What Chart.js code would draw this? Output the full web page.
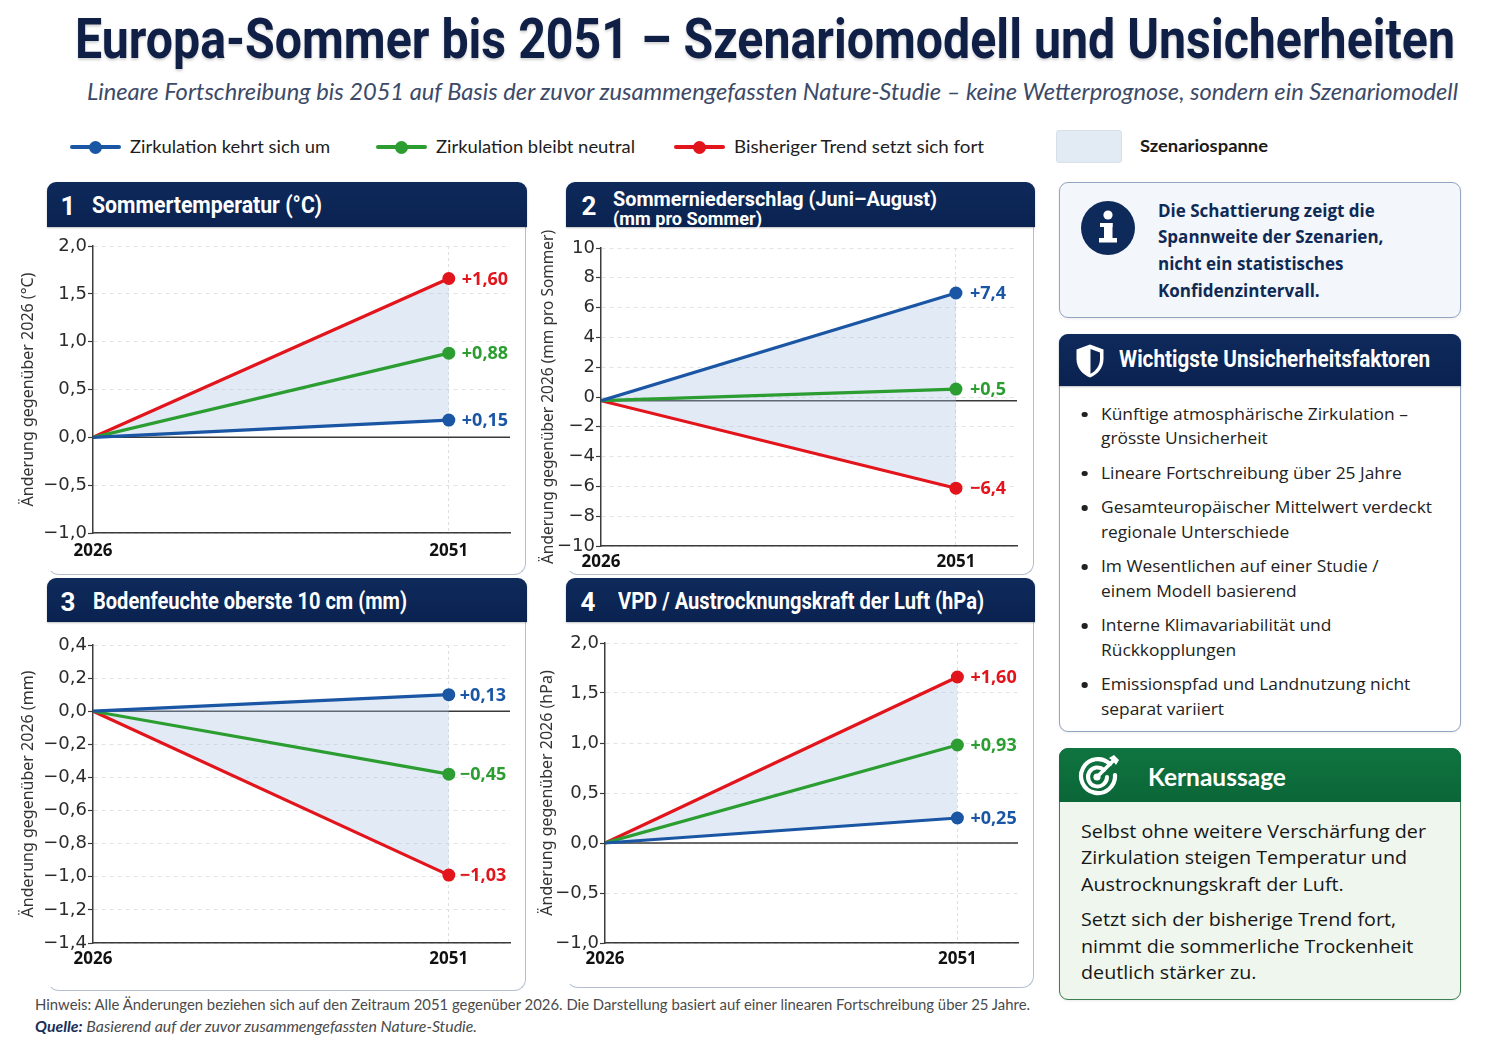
<!DOCTYPE html>
<html lang="de">
<head>
<meta charset="utf-8">
<title>Europa-Sommer bis 2051</title>
<script src="https://cdn.jsdelivr.net/npm/chart.js@4.4.1/dist/chart.umd.min.js"></script>
<style>
html,body{margin:0;padding:0;background:#ffffff;}
body{width:1491px;height:1055px;position:relative;overflow:hidden;font-family:Lato,"Noto Sans",sans-serif;}
.abs{position:absolute;}
.fit{position:absolute;white-space:nowrap;display:inline-block;transform-origin:0 50%;}
.hdr{position:absolute;background:linear-gradient(180deg,#0e2a5b 0%,#0a2250 100%);border-radius:9px 9px 0 0;box-shadow:0 1px 2px rgba(0,0,0,0.25);}
.num{position:absolute;color:#fff;font:700 26px Roboto,"Noto Sans",sans-serif;text-align:center;width:30px;}
.htitle{color:#fff;font-family:Roboto,"Noto Sans",sans-serif;font-weight:700;}
.body{position:absolute;border-right:1.5px solid #b3bfd0;border-bottom:1.5px solid #b3bfd0;border-left:1.5px solid transparent;border-radius:0 0 12px 12px;box-sizing:border-box;}
canvas{position:absolute;}
.bul{position:relative;padding-left:0;margin-bottom:10px;}
.bul:before{content:"";position:absolute;left:-19px;top:10px;width:5.5px;height:5.5px;border-radius:50%;background:#222;}
</style>
</head>
<body>
<div id="root"></div>
<script>
// ---------------- DATA ----------------
const scenarioNames = ['Zirkulation kehrt sich um', 'Zirkulation bleibt neutral', 'Bisheriger Trend setzt sich fort'];
const scenarioColors = ['#1a56a3', '#2b9d31', '#e2141c'];
const years = [2026, 2051];

const tempStart = 0;
const temp2051 = [0.18, 0.88, 1.66];
const tempLabels = ['+0,15', '+0,88', '+1,60'];
const tempTicks = { min: -1.0, max: 2.0, step: 0.5, decimals: 1 };

const precipStart = -0.25;
const precip2051 = [6.98, 0.53, -6.12];
const precipLabels = ['+7,4', '+0,5', '\u22126,4'];
const precipTicks = { min: -10, max: 10, step: 2, decimals: 0 };

const soilStart = 0;
const soil2051 = [0.10, -0.38, -0.99];
const soilLabels = ['+0,13', '\u22120,45', '\u22121,03'];
const soilTicks = { min: -1.4, max: 0.4, step: 0.2, decimals: 1 };

const vpdStart = 0;
const vpd2051 = [0.25, 0.98, 1.66];
const vpdLabels = ['+0,25', '+0,93', '+1,60'];
const vpdTicks = { min: -1.0, max: 2.0, step: 0.5, decimals: 1 };

// ---------------- STATIC LAYOUT ----------------
const root = document.getElementById('root');
function add(html){ root.insertAdjacentHTML('beforeend', html); }

// Title & subtitle
add(`<div class="fit" data-w="1380" style="left:75px;top:7px;height:62px;line-height:62px;font:700 55px Roboto,'Noto Sans',sans-serif;color:#0f1f45;text-shadow:0 2px 3px rgba(0,0,0,0.18);">Europa-Sommer bis 2051 – Szenariomodell und Unsicherheiten</div>`);
add(`<div class="fit" data-w="1371" style="left:87px;top:77px;height:30px;line-height:30px;font:italic 400 23px Lato,'Noto Sans',sans-serif;color:#3c4a68;">Lineare Fortschreibung bis 2051 auf Basis der zuvor zusammengefassten Nature-Studie – keine Wetterprognose, sondern ein Szenariomodell</div>`);

// Legend
const legendPos = [ {lx:70, tx:130, tw:200}, {lx:376, tx:436, tw:199}, {lx:674, tx:734, tw:250} ];
scenarioNames.forEach((n,i)=>{
  const p = legendPos[i];
  add(`<div class="abs" style="left:${p.lx}px;top:145px;width:51px;height:4px;border-radius:2px;background:${scenarioColors[i]}"></div>`);
  add(`<div class="abs" style="left:${p.lx+19}px;top:140.5px;width:13px;height:13px;border-radius:50%;background:${scenarioColors[i]}"></div>`);
  add(`<div class="fit" data-w="${p.tw}" style="left:${p.tx}px;top:135px;height:26px;line-height:26px;font:400 18px Lato,'Noto Sans',sans-serif;color:#1d1d1d;">${n}</div>`);
});
add(`<div class="abs" style="left:1056px;top:130px;width:66px;height:33px;background:#e2eaf4;border:1px solid #d6e0ec;border-radius:3px;box-sizing:border-box;"></div>`);
add(`<div class="fit" data-w="128" style="left:1140px;top:135px;height:26px;line-height:26px;font:700 17px Lato,'Noto Sans',sans-serif;color:#1a1a1a;">Szenariospanne</div>`);

// Panels (headers + card bodies)
const panelBoxes = [
  {x:47,  y:182, w:480, h:45, bodyBottom:575, num:'1', numX:53,  numY:206, lines:[{t:'Sommertemperatur (°C)', x:92, y:206, s:23, w:230}]},
  {x:566, y:182, w:469, h:45, bodyBottom:575, num:'2', numX:574, numY:206, lines:[{t:'Sommerniederschlag (Juni–August)', x:613, y:199, s:21, w:324},{t:'(mm pro Sommer)', x:613, y:219, s:19, w:149}]},
  {x:47,  y:578, w:480, h:44, bodyBottom:991, num:'3', numX:53,  numY:602, lines:[{t:'Bodenfeuchte oberste 10 cm (mm)', x:93, y:602, s:23, w:314}]},
  {x:566, y:578, w:469, h:44, bodyBottom:988, num:'4', numX:573, numY:602, lines:[{t:'VPD / Austrocknungskraft der Luft (hPa)', x:618, y:602, s:23, w:366}]}
];
panelBoxes.forEach(p=>{
  add(`<div class="body" style="left:${p.x}px;top:${p.y+p.h}px;width:${p.w-1}px;height:${p.bodyBottom-p.y-p.h}px;"></div>`);
  add(`<div class="hdr" style="left:${p.x}px;top:${p.y}px;width:${p.w}px;height:${p.h}px;"></div>`);
  add(`<div class="num" style="left:${p.numX}px;top:${p.numY-15}px;height:30px;line-height:30px;">${p.num}</div>`);
  p.lines.forEach(l=>{
    add(`<div class="fit htitle" data-w="${l.w}" style="left:${l.x}px;top:${l.y-14}px;height:28px;line-height:28px;font-size:${l.s}px;">${l.t}</div>`);
  });
});

// Info box
add(`<div class="abs" style="left:1059px;top:182px;width:402px;height:136px;background:#f3f6fa;border:1.5px solid #93a5c0;border-radius:9px;box-sizing:border-box;box-shadow:0 1px 3px rgba(0,0,0,0.08);"></div>`);
add(`<svg class="abs" style="left:1080px;top:200px" width="56" height="56" viewBox="0 0 56 56">
  <circle cx="28" cy="28" r="27" fill="#0d2a5a"/>
  <circle cx="28" cy="15" r="4.6" fill="#fff"/>
  <rect x="24" y="23" width="8.5" height="17" fill="#fff"/>
  <rect x="20" y="23" width="12.5" height="4" fill="#fff"/>
  <rect x="19" y="38" width="18" height="4.5" fill="#fff"/>
</svg>`);
add(`<div class="abs" style="left:1158px;top:197.7px;font:700 17px 'Open Sans',Lato,sans-serif;line-height:26.7px;color:#0f2a55;white-space:nowrap;">Die Schattierung zeigt die<br>Spannweite der Szenarien,<br>nicht ein statistisches<br>Konfidenzintervall.</div>`);

// Uncertainty box
add(`<div class="abs" style="left:1059px;top:334px;width:402px;height:398px;background:#fff;border:1.5px solid #93a5c0;border-radius:9px;box-sizing:border-box;box-shadow:0 1px 3px rgba(0,0,0,0.08);"></div>`);
add(`<div class="hdr" style="left:1059px;top:334px;width:402px;height:52px;"></div>`);
add(`<svg class="abs" style="left:1075px;top:343px" width="30" height="36" viewBox="0 0 30 36">
  <path d="M15 1.5 L28.5 6.5 V16 C28.5 25 22.5 31.5 15 34.5 C7.5 31.5 1.5 25 1.5 16 V6.5 Z" fill="#fff"/>
  <path d="M15.5 6 L25 9.4 V16 C25 23 20.5 28.3 15.5 30.8 Z" fill="#0c2552"/>
</svg>`);
add(`<div class="fit htitle" data-w="311" style="left:1119px;top:346px;height:28px;line-height:28px;font-size:23px;">Wichtigste Unsicherheitsfaktoren</div>`);
const bullets = [
  'Künftige atmosphärische Zirkulation –<br>grösste Unsicherheit',
  'Lineare Fortschreibung über 25 Jahre',
  'Gesamteuropäischer Mittelwert verdeckt<br>regionale Unterschiede',
  'Im Wesentlichen auf einer Studie /<br>einem Modell basierend',
  'Interne Klimavariabilität und<br>Rückkopplungen',
  'Emissionspfad und Landnutzung nicht<br>separat variiert'
];
add(`<div class="fit" data-w="331" style="left:1101px;top:401.5px;font:400 17px 'Open Sans',Lato,sans-serif;line-height:24.5px;color:#222;transform-origin:0 0;">${bullets.map(b=>`<div class="bul">${b}</div>`).join('')}</div>`);

// Kernaussage box
add(`<div class="abs" style="left:1059px;top:748px;width:402px;height:252px;background:#eef6ee;border:1.5px solid #3a7e51;border-radius:9px;box-sizing:border-box;box-shadow:0 1px 3px rgba(0,0,0,0.08);"></div>`);
add(`<div class="abs" style="left:1059px;top:748px;width:402px;height:54px;background:linear-gradient(180deg,#0f7440,#0b6637);border-radius:9px 9px 0 0;"></div>`);
add(`<svg class="abs" style="left:1073px;top:751px" width="50" height="50" viewBox="0 0 50 50">
  <path d="M37 13 A17 17 0 1 0 42 24" fill="none" stroke="#fff" stroke-width="4.2" stroke-linecap="round"/>
  <path d="M31 19 A9.5 9.5 0 1 0 34 26" fill="none" stroke="#fff" stroke-width="4" stroke-linecap="round"/>
  <circle cx="24" cy="26" r="3.6" fill="#fff"/>
  <line x1="24" y1="26" x2="40" y2="10" stroke="#fff" stroke-width="3.6" stroke-linecap="round"/>
  <path d="M36 7 L40 10 L43 14 L46 9 L41 4 Z" fill="#fff"/>
</svg>`);
add(`<div class="abs" style="left:1148px;top:762px;height:28px;line-height:28px;font:700 24.5px Lato,'Noto Sans',sans-serif;color:#fff;white-space:nowrap;">Kernaussage</div>`);
add(`<div class="fit" data-w="345" style="left:1081px;top:817.6px;font:400 19px 'Open Sans',Lato,sans-serif;line-height:26.7px;color:#161616;transform-origin:0 0;">
<div style="margin-bottom:8.3px">Selbst ohne weitere Verschärfung der<br>Zirkulation steigen Temperatur und<br>Austrocknungskraft der Luft.</div>
<div>Setzt sich der bisherige Trend fort,<br>nimmt die sommerliche Trockenheit<br>deutlich stärker zu.</div></div>`);

// Footer
add(`<div class="fit" data-w="995" style="left:35px;top:996px;height:20px;line-height:20px;font:400 14.5px Lato,'Noto Sans',sans-serif;color:#4a4a4a;">Hinweis: Alle Änderungen beziehen sich auf den Zeitraum 2051 gegenüber 2026. Die Darstellung basiert auf einer linearen Fortschreibung über 25 Jahre.</div>`);
add(`<div class="fit" data-w="442" style="left:35px;top:1018px;height:20px;line-height:20px;font:italic 400 14.5px Lato,'Noto Sans',sans-serif;color:#4a4a4a;"><b style="color:#1a2f5a">Quelle:</b> Basierend auf der zuvor zusammengefassten Nature-Studie.</div>`);

function fitAll(){
  document.querySelectorAll('[data-w]').forEach(el=>{
    el.style.transform = 'none';
    const w = el.getBoundingClientRect().width;
    if (w > 0) el.style.transform = `scaleX(${(+el.dataset.w)/w})`;
  });
}
fitAll();
if (document.fonts && document.fonts.ready) document.fonts.ready.then(fitAll);

// ---------------- CHARTS ----------------
const scenarioMarks = {
  id: 'scenarioMarks',
  beforeDatasetsDraw(chart, args, opts){
    const {ctx, chartArea: a} = chart;
    const py = chart.scales.y.getPixelForValue(opts.base);
    ctx.save();
    ctx.strokeStyle = '#3a3a3a'; ctx.lineWidth = 1.5;
    ctx.beginPath(); ctx.moveTo(a.left, py); ctx.lineTo(a.right, py); ctx.stroke();
    ctx.restore();
  },
  afterDatasetsDraw(chart, args, opts){
    const ctx = chart.ctx;
    chart.data.datasets.forEach((ds, i)=>{
      const el = chart.getDatasetMeta(i).data[1];
      ctx.save();
      ctx.font = 'bold 18px "Noto Sans"';
      ctx.fillStyle = ds.borderColor;
      ctx.textAlign = 'left'; ctx.textBaseline = 'middle';
      ctx.fillText(opts.labels[i], el.x + opts.dx, el.y + 1);
      ctx.restore();
    });
  }
};

function fmt(decimals){
  return v => {
    if (Math.abs(v) < 1e-9) v = 0;
    return v.toFixed(decimals).replace('.', ',').replace('-', '\u2212');
  };
}

function makeDatasets(start, ends){
  return ends.map((v, i)=>({
    label: scenarioNames[i],
    data: [{x: years[0], y: start}, {x: years[1], y: v}],
    borderColor: scenarioColors[i],
    borderWidth: 3.2,
    pointRadius: [0, 6.5],
    pointHoverRadius: [0, 6.5],
    pointBackgroundColor: scenarioColors[i],
    pointBorderWidth: 0,
    backgroundColor: 'rgba(168,194,226,0.34)',
    fill: i === 2 ? {target: 0} : false,
    tension: 0
  }));
}

const panels = [
  {id:'c1', start: tempStart,   ends: temp2051,   labels: tempLabels,   ticks: tempTicks,   title:'Änderung gegenüber 2026 (°C)',            tSize:16,   box:{l:14, t:234, w:508, h:329}, padTop:12, yW:79, xH:30, xPad:8, dx:13},
  {id:'c2', start: precipStart, ends: precip2051, labels: precipLabels, ticks: precipTicks, title:'Änderung gegenüber 2026 (mm pro Sommer)', tSize:15.5, box:{l:534, t:224, w:495, h:352}, padTop:24, yW:67, xH:30, xPad:6, dx:14},
  {id:'c3', start: soilStart,   ends: soil2051,   labels: soilLabels,   ticks: soilTicks,   title:'Änderung gegenüber 2026 (mm)',            tSize:16,   box:{l:14, t:633, w:508, h:340}, padTop:12, yW:79, xH:30, xPad:6, dx:11},
  {id:'c4', start: vpdStart,    ends: vpd2051,    labels: vpdLabels,    ticks: vpdTicks,    title:'Änderung gegenüber 2026 (hPa)',           tSize:16,   box:{l:533, t:631, w:497, h:342}, padTop:12, yW:72, xH:30, xPad:6, dx:13}
];

panels.forEach(p=>{
  const cv = document.createElement('canvas');
  cv.id = p.id;
  cv.width = p.box.w; cv.height = p.box.h;
  cv.style.left = p.box.l + 'px'; cv.style.top = p.box.t + 'px';
  cv.style.width = p.box.w + 'px'; cv.style.height = p.box.h + 'px';
  document.body.appendChild(cv);

  new Chart(cv, {
    type: 'line',
    data: { datasets: makeDatasets(p.start, p.ends) },
    options: {
      responsive: false,
      animation: false,
      layout: { padding: { top: p.padTop, right: 12, left: 0, bottom: 0 } },
      plugins: {
        legend: { display: false },
        tooltip: { enabled: false },
        scenarioMarks: { labels: p.labels, base: p.start, dx: p.dx }
      },
      scales: {
        x: {
          type: 'linear',
          min: years[0],
          max: 2055.3,
          afterBuildTicks: s => { s.ticks = years.map(v => ({ value: v })); },
          afterFit: s => { s.height = p.xH; },
          grid: {
            drawTicks: false,
            lineWidth: 1,
            color: c => (c.tick && c.tick.value === years[1]) ? '#dedede' : 'rgba(0,0,0,0)'
          },
          border: { display: true, color: '#3c3c3c', width: 1.5, dash: [3, 3] },
          ticks: {
            autoSkip: false, maxRotation: 0, padding: p.xPad,
            color: '#111',
            font: { family: 'Noto Sans', weight: 'bold', size: 17 },
            callback: v => String(v)
          }
        },
        y: {
          min: p.ticks.min,
          max: p.ticks.max,
          afterFit: s => { s.width = p.yW; },
          ticks: {
            stepSize: p.ticks.step,
            padding: 1,
            color: '#2b2b2b',
            font: { family: 'DejaVu Sans', size: 18 },
            callback: fmt(p.ticks.decimals)
          },
          grid: { color: '#e3e3e3', lineWidth: 1, tickLength: 5, tickColor: '#3c3c3c', tickWidth: 1.2 },
          border: { display: true, color: '#3c3c3c', width: 1.5, dash: [4, 4] },
          title: {
            display: true,
            text: p.title,
            color: '#333',
            font: { family: 'Noto Sans', size: p.tSize },
            padding: { top: 5, bottom: 0 }
          }
        }
      }
    },
    plugins: [scenarioMarks]
  });
});
</script>
</body>
</html>
